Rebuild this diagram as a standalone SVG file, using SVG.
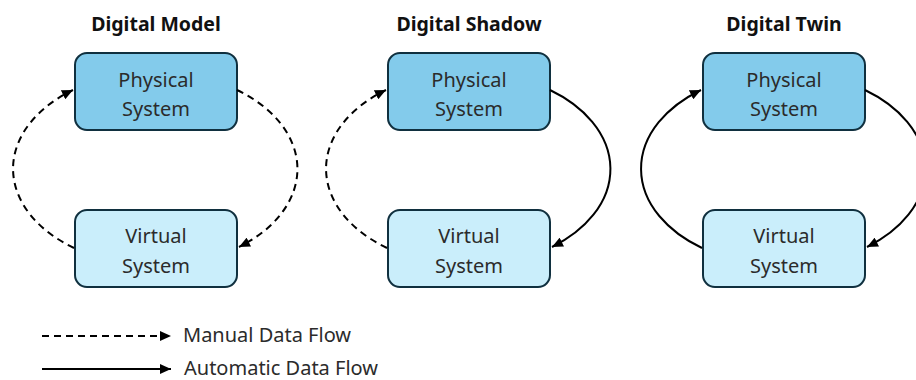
<svg xmlns="http://www.w3.org/2000/svg" width="916" height="380" viewBox="0 0 916 380">
  <defs>
    <marker id="arrow" markerUnits="userSpaceOnUse" markerWidth="12" markerHeight="10" refX="11" refY="5" orient="auto">
      <path d="M0,0 L11,5 L0,10 z" fill="#000"/>
    </marker>
    <style>
      .title { font-family: "Noto Sans", "Open Sans", sans-serif; font-weight: bold; font-size: 19.5px; fill: #111; text-anchor: middle; }
      .label { font-family: "Noto Sans", "Open Sans", sans-serif; font-size: 20px; fill: #2b2b2b; text-anchor: middle; }
      .legend { font-family: "Noto Sans", "Open Sans", sans-serif; font-size: 20px; fill: #2b2b2b; }
      .phys { fill: #83cbeb; stroke: #10303f; stroke-width: 2; }
      .virt { fill: #caeefb; stroke: #10303f; stroke-width: 2; }
      .flow { fill: none; stroke: #000; stroke-width: 2; marker-end: url(#arrow); }
      .manual { stroke-dasharray: 7 5; }
    </style>
  </defs>

  <rect width="916" height="380" fill="#fff"/>

  <!-- panel titles -->
  <text class="title" x="156" y="31">Digital Model</text>
  <text class="title" x="469" y="31">Digital Shadow</text>
  <text class="title" x="784" y="31">Digital Twin</text>

  <!-- Digital Model -->
  <g id="model-physical">
    <rect class="phys" x="75" y="53" width="162" height="77" rx="12"/>
    <text class="label" x="156" y="87">Physical</text>
    <text class="label" x="156" y="116">System</text>
  </g>
  <g id="model-virtual">
    <rect class="virt" x="75" y="210" width="162" height="77" rx="12"/>
    <text class="label" x="156" y="243">Virtual</text>
    <text class="label" x="156" y="273">System</text>
  </g>

  <!-- Digital Shadow -->
  <g id="shadow-physical">
    <rect class="phys" x="388" y="53" width="162" height="77" rx="12"/>
    <text class="label" x="469" y="87">Physical</text>
    <text class="label" x="469" y="116">System</text>
  </g>
  <g id="shadow-virtual">
    <rect class="virt" x="388" y="210" width="162" height="77" rx="12"/>
    <text class="label" x="469" y="243">Virtual</text>
    <text class="label" x="469" y="273">System</text>
  </g>

  <!-- Digital Twin -->
  <g id="twin-physical">
    <rect class="phys" x="703" y="53" width="162" height="77" rx="12"/>
    <text class="label" x="784" y="87">Physical</text>
    <text class="label" x="784" y="116">System</text>
  </g>
  <g id="twin-virtual">
    <rect class="virt" x="703" y="210" width="162" height="77" rx="12"/>
    <text class="label" x="784" y="243">Virtual</text>
    <text class="label" x="784" y="273">System</text>
  </g>

  <!-- data flows between physical and virtual systems -->
  <g id="connectors">
    <path class="flow manual" d="M237,90 A144,97 0 0 1 239,247"/>
    <path class="flow manual" d="M74,248 A144,97 0 0 1 73,90"/>

    <path class="flow" d="M550,90 A144,97 0 0 1 552,247"/>
    <path class="flow manual" d="M387,248 A144,97 0 0 1 386,90"/>

    <path class="flow" d="M865,90 A144,97 0 0 1 867,247"/>
    <path class="flow" d="M702,248 A144,97 0 0 1 701,90"/>
  </g>

  <!-- legend -->
  <g id="legend">
    <path class="flow manual" d="M42,336 L171,336"/>
    <text class="legend" x="183" y="342">Manual Data Flow</text>
    <path class="flow" d="M42,369 L171,369"/>
    <text class="legend" x="184" y="375">Automatic Data Flow</text>
  </g>
</svg>
